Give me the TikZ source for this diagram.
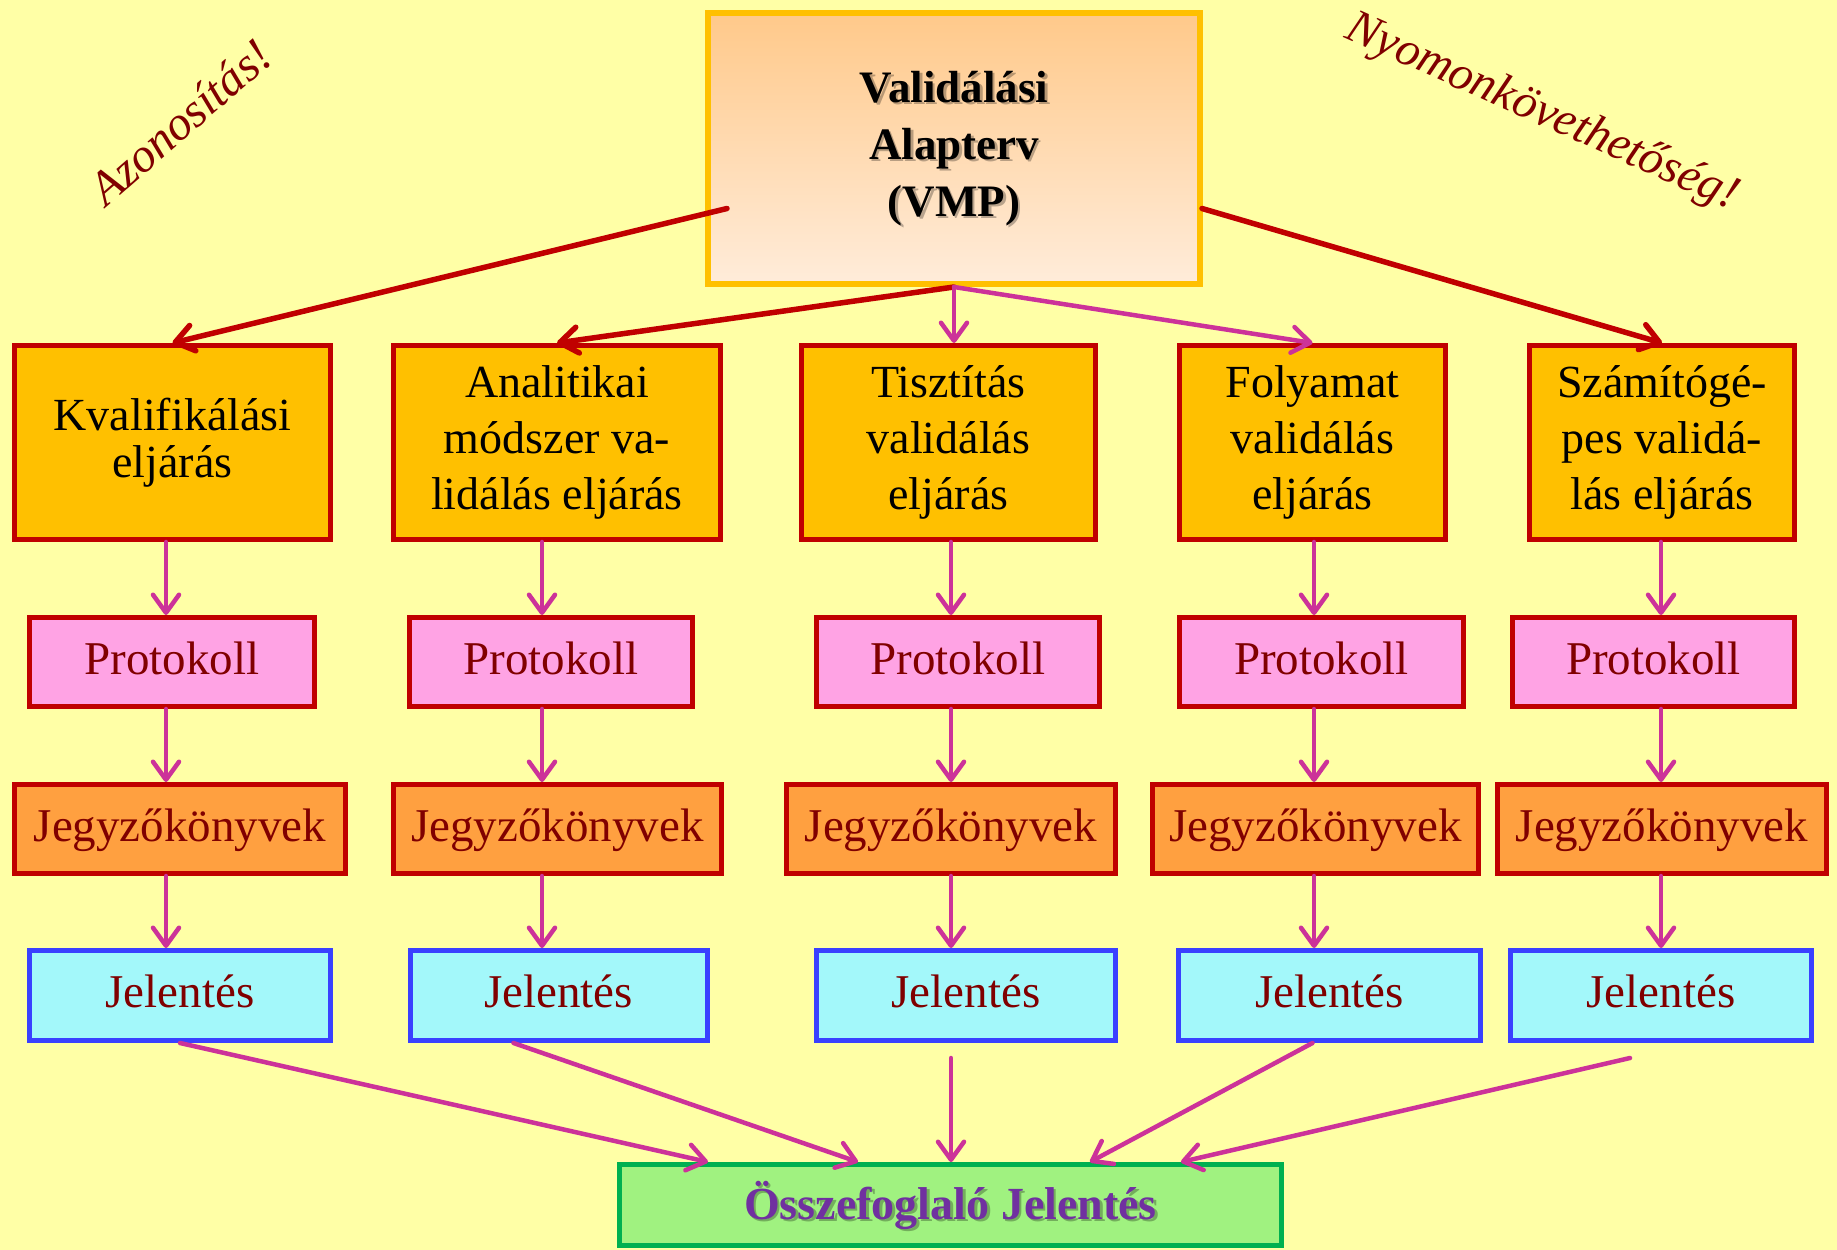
\documentclass[tikz,border=0pt]{standalone}
\usepackage{fontspec}
\setmainfont{Liberation Serif}
\usetikzlibrary{arrows.meta,calc}
\definecolor{bgc}{RGB}{255,255,166}
\definecolor{bred}{RGB}{192,0,0}
\definecolor{bgold}{RGB}{255,192,0}
\definecolor{bpink}{RGB}{255,163,228}
\definecolor{borange}{RGB}{255,160,64}
\definecolor{bcyan}{RGB}{163,248,250}
\definecolor{bblue}{RGB}{58,64,255}
\definecolor{bgreen}{RGB}{160,242,128}
\definecolor{bgreenline}{RGB}{0,176,80}
\definecolor{bmag}{RGB}{204,50,153}
\definecolor{tred}{RGB}{128,0,0}
\definecolor{tpurple}{RGB}{112,48,160}
\definecolor{topA}{RGB}{255,201,138}
\definecolor{topB}{RGB}{255,236,218}
\tikzset{
  box/.style={draw, line width=5pt, inner sep=0pt, align=center},
  procbox/.style={box, draw=bred, fill=bgold, text=black, minimum height=194pt,
    font=\fontsize{46}{56}\selectfont},
  onebox/.style={box, draw=bred, text=tred, minimum height=89pt,
    font=\fontsize{47}{52}\selectfont, text height=32pt, text depth=8pt},
  protbox/.style={onebox, fill=bpink},
  jegybox/.style={onebox, fill=borange},
  jelbox/.style={onebox, draw=bblue, fill=bcyan, minimum height=90pt},
  vmpbox/.style={draw=bgold, line width=6pt, top color=topA, bottom color=topB,
    minimum width=492pt, minimum height=271pt},
  vmptxt/.style={align=center, font=\fontsize{45}{57}\selectfont\bfseries, text=black},
  sumbox/.style={draw=bgreenline, line width=5pt, fill=bgreen,
    minimum width=662pt, minimum height=81pt},
  sumtxt/.style={font=\fontsize{46}{50}\selectfont\bfseries, text=tpurple},
  shadowtxt/.style={text=black, opacity=0.28},
  note/.style={font=\fontsize{48}{52}\selectfont\itshape, text=tred},
  redarr/.style={draw=bred, line width=5.5pt, line cap=round,
    -{Straight Barb[length=18pt,width=26pt,round]}},
  magarr/.style={draw=bmag, line width=4.5pt, line cap=round,
    -{Straight Barb[length=18pt,width=26pt,round]}},
}
\begin{document}
\begin{tikzpicture}[x=1pt,y=-1pt]
\fill[bgc] (0,0) rectangle (1837,1250);
\useasboundingbox (0,0) rectangle (1837,1250);

% top box
\node[vmpbox] (vmp) at (954,148.5) {};
\node[vmptxt, shadowtxt] (vmpshadow) at ($(vmp)+(2.5,2.5)$) {Validálási\\Alapterv\\(VMP)};
\node[vmptxt] (vmptext) at (vmp) {Validálási\\Alapterv\\(VMP)};

% notes
\node[note, rotate=41] (az) at (180,122) {Azonosítás!};
\node[note, rotate=-24] (ny) at (1542,113) {Nyomonkövethetőség!};

% row 1
\node[procbox, minimum width=316pt, font=\fontsize{46}{47}\selectfont] (k1) at (172.5,442.5) {Kvalifikálási\\eljárás};
\node[procbox, minimum width=327pt] (k2) at (557,442.5) {Analitikai\\módszer va-\\lidálás eljárás};
\node[procbox, minimum width=294pt] (k3) at (948.5,442.5) {Tisztítás\\validálás\\eljárás};
\node[procbox, minimum width=266pt] (k4) at (1312.5,442.5) {Folyamat\\validálás\\eljárás};
\node[procbox, minimum width=265pt] (k5) at (1662,442.5) {Számítógé-\\pes validá-\\lás eljárás};

% row 2
\node[protbox, minimum width=285pt] (p1) at (172,662) {Protokoll};
\node[protbox, minimum width=283pt] (p2) at (551,662) {Protokoll};
\node[protbox, minimum width=283pt] (p3) at (958,662) {Protokoll};
\node[protbox, minimum width=284pt] (p4) at (1321.5,662) {Protokoll};
\node[protbox, minimum width=282pt] (p5) at (1653.5,662) {Protokoll};

% row 3
\node[jegybox, minimum width=331pt] (j1) at (180,829) {Jegyzőkönyvek};
\node[jegybox, minimum width=328pt] (j2) at (557.5,829) {Jegyzőkönyvek};
\node[jegybox, minimum width=329pt] (j3) at (951,829) {Jegyzőkönyvek};
\node[jegybox, minimum width=326pt] (j4) at (1315.5,829) {Jegyzőkönyvek};
\node[jegybox, minimum width=329pt] (j5) at (1662,829) {Jegyzőkönyvek};

% row 4
\node[jelbox, minimum width=301pt] (r1) at (180,995.5) {Jelentés};
\node[jelbox, minimum width=297pt] (r2) at (558.5,995.5) {Jelentés};
\node[jelbox, minimum width=299pt] (r3) at (966,995.5) {Jelentés};
\node[jelbox, minimum width=302pt] (r4) at (1329.5,995.5) {Jelentés};
\node[jelbox, minimum width=301pt] (r5) at (1661,995.5) {Jelentés};

% summary
\node[sumbox] (sum) at (950.5,1205) {};
\node[sumtxt, shadowtxt] (sumshadow) at ($(sum)+(2.5,2.5)$) {Összefoglaló Jelentés};
\node[sumtxt] (sumtext) at (sum) {Összefoglaló Jelentés};

% column coordinates
\coordinate (c1) at (166,0);
\coordinate (c2) at (542,0);
\coordinate (c3) at (951,0);
\coordinate (c4) at (1314,0);
\coordinate (c5) at (1661,0);

% top arrows
\coordinate (vl) at ($(vmp.west)+(22,60)$);
\coordinate (vr) at ($(vmp.east)+(-1,60)$);
\draw[redarr] (vl) -- (k1.north);
\draw[redarr] (vmp.south) -- (k2.north);
\draw[magarr] (vmp.south) -- (vmp.south |- k3.north);
\draw[magarr] (vmp.south) -- (k4.north);
\draw[redarr] (vr) -- (k5.north);

% vertical arrows
\foreach \i in {1,...,5}{
  \draw[magarr] (k\i.south -| c\i) -- (p\i.north -| c\i);
  \draw[magarr] (p\i.south -| c\i) -- (j\i.north -| c\i);
  \draw[magarr] (j\i.south -| c\i) -- (r\i.north -| c\i);
}

% bottom arrows
\coordinate (e1) at (708,0);
\coordinate (e2) at (858,0);
\coordinate (e4) at (1090,0);
\coordinate (e5) at (1181,0);
\coordinate (s3) at ($(r3.south)+(-15,15)$);
\coordinate (s5) at ($(r5.south)+(-31,15)$);
\draw[magarr] (r1.south) -- (e1 |- sum.north);
\draw[magarr] ($(r2.south)+(-45,0)$) -- (e2 |- sum.north);
\draw[magarr] (s3) -- (s3 |- sum.north);
\draw[magarr] ($(r4.south)+(-17,0)$) -- (e4 |- sum.north);
\draw[magarr] (s5) -- (e5 |- sum.north);
\end{tikzpicture}
\end{document}
